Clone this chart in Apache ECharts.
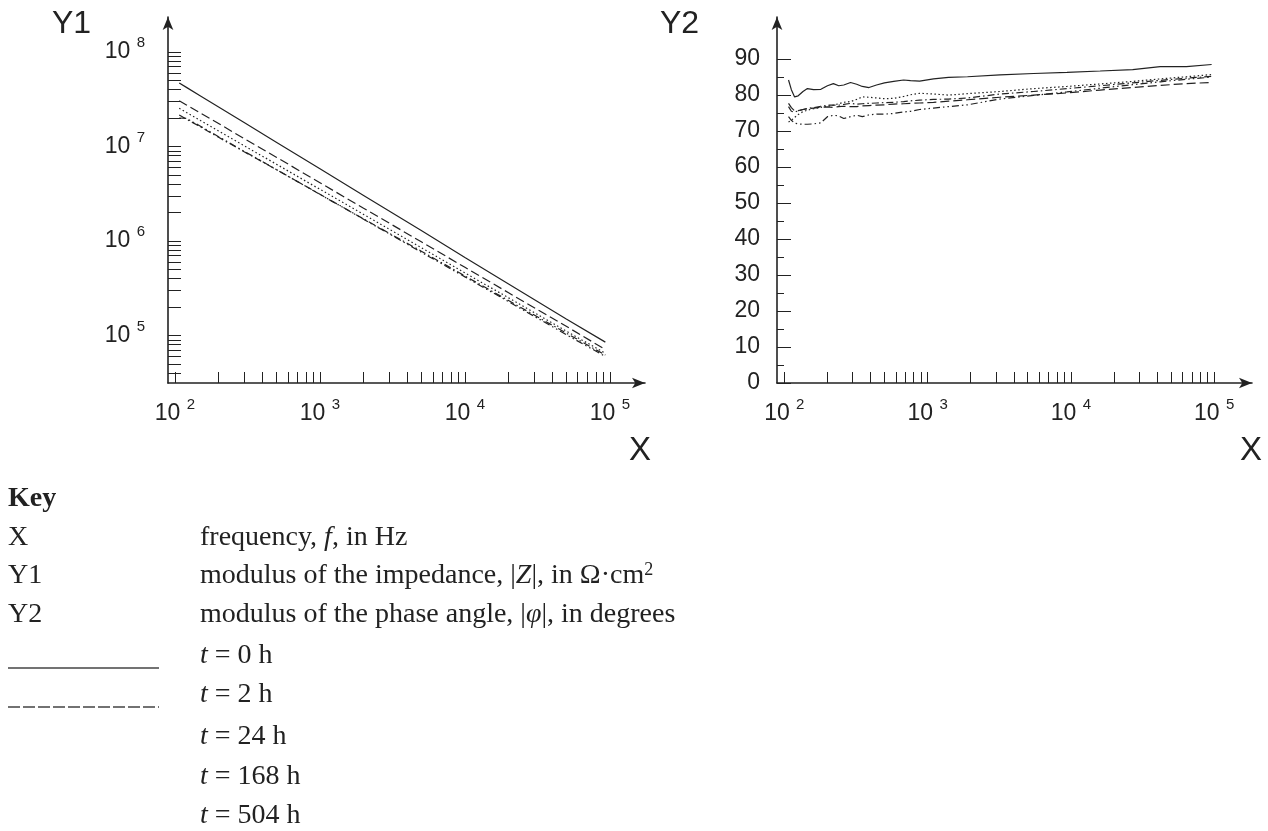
<!DOCTYPE html>
<html>
<head>
<meta charset="utf-8">
<script src="https://cdn.jsdelivr.net/npm/echarts@6/dist/echarts.min.js"></script>
<style>
  html, body { margin: 0; padding: 0; background: #fff; }
  #chart { width: 1268px; height: 831px; }
</style>
</head>
<body>
<div id="chart"></div>
<script>
// impedance modulus |Z| (Ohm cm2) vs frequency (Hz)
const freqZ = [107, 120, 150, 200, 300, 500, 1000, 2000, 5000, 10000, 20000, 50000, 93000];
const z0h   = [4.7e7, 4.22e7, 3.42e7, 2.61e7, 1.79e7, 1.11e7, 5.8e6, 3.03e6, 1.29e6, 6.7e5, 3.5e5, 1.49e5, 8.5e4];
const z2h   = [3.05e7, 2.75e7, 2.25e7, 1.75e7, 1.21e7, 7.7e6, 4.13e6, 2.22e6, 9.8e5, 5.26e5, 2.83e5, 1.25e5, 7.1e4];
const z24h  = [2.54e7, 2.29e7, 1.88e7, 1.46e7, 1.02e7, 6.5e6, 3.52e6, 1.91e6, 8.5e5, 4.6e5, 2.5e5, 1.11e5, 6.5e4];
const z168h = [2.15e7, 1.95e7, 1.61e7, 1.25e7, 8.8e6, 5.7e6, 3.12e6, 1.71e6, 7.8e5, 4.27e5, 2.34e5, 1.06e5, 6.2e4];
const z504h = [2.0e7, 1.98e7, 1.64e7, 1.27e7, 8.9e6, 5.7e6, 3.11e6, 1.70e6, 7.6e5, 4.17e5, 2.28e5, 1.02e5, 6.0e4];

// phase angle |phi| (degrees) vs frequency (Hz)
const freqP = [107, 112, 118, 125, 135, 145, 160, 180, 200, 220, 240, 260, 290, 320, 350, 390, 440, 500,
               580, 680, 760, 880, 1100, 1400, 1900, 3200, 5500, 9400, 16000, 27000, 42000, 64000, 96000];
const p0h   = [84.2, 81.5, 79.5, 79.8, 81.0, 81.8, 81.5, 81.6, 82.6, 83.2, 82.6, 82.8, 83.5, 83.0, 82.4, 82.1, 82.8, 83.4,
               83.8, 84.2, 84.0, 83.9, 84.5, 84.9, 85.1, 85.6, 86.0, 86.3, 86.7, 87.1, 87.9, 87.9, 88.5];
const p2h   = [77.7, 76.5, 75.6, 75.7, 76.0, 76.2, 76.4, 76.6, 76.7, 76.6, 76.8, 76.9, 76.8, 76.8, 77.0, 77.1, 77.2, 77.3,
               77.5, 77.6, 77.7, 77.8, 78.0, 78.3, 78.7, 79.4, 80.0, 80.6, 81.4, 82.1, 82.7, 83.2, 83.5];
const p24h  = [72.5, 73.0, 73.8, 74.6, 75.4, 75.8, 76.2, 76.6, 76.9, 77.2, 77.6, 78.0, 78.2, 78.8, 79.5, 79.4, 79.2, 79.0,
               79.1, 79.6, 80.1, 80.5, 80.3, 80.0, 80.4, 81.0, 81.8, 82.4, 83.1, 83.8, 84.5, 85.1, 85.7];
const p168h = [76.8, 75.5, 75.3, 75.6, 76.0, 76.3, 76.5, 76.9, 77.2, 77.2, 77.2, 77.4, 77.7, 77.5, 77.6, 77.7, 77.8, 77.9,
               78.0, 78.2, 78.4, 78.6, 78.8, 78.9, 79.2, 80.3, 81.0, 81.8, 82.6, 83.4, 84.1, 84.7, 85.2];
const p504h = [74.0, 73.0, 72.2, 72.0, 71.9, 71.9, 72.0, 72.3, 74.0, 74.4, 74.2, 73.5, 74.0, 74.4, 74.0, 74.5, 74.7, 74.7,
               74.9, 75.3, 75.5, 76.0, 76.4, 76.8, 77.3, 78.9, 79.9, 80.9, 81.9, 82.9, 83.7, 84.4, 85.0];

const seriesNames = ['t = 0 h', 't = 2 h', 't = 24 h', 't = 168 h', 't = 504 h'];
const zSeries = [z0h, z2h, z24h, z168h, z504h];
const pSeries = [p0h, p2h, p24h, p168h, p504h];

// ticks and labels
const freqTicks = [100, 200, 300, 400, 500, 600, 700, 800, 900,
                   1000, 2000, 3000, 4000, 5000, 6000, 7000, 8000, 9000,
                   10000, 20000, 30000, 40000, 50000, 60000, 70000, 80000, 90000, 100000];
const freqLabels = [100, 1000, 10000, 100000];
const zTicks = [4e4, 5e4, 6e4, 7e4, 8e4, 9e4,
                1e5, 2e5, 3e5, 4e5, 5e5, 6e5, 7e5, 8e5, 9e5,
                1e6, 2e6, 3e6, 4e6, 5e6, 6e6, 7e6, 8e6, 9e6,
                1e7, 2e7, 3e7, 4e7, 5e7, 6e7, 7e7, 8e7, 9e7, 1e8];
const zLabels = [1e5, 1e6, 1e7, 1e8];
const phaseMajor = [0, 10, 20, 30, 40, 50, 60, 70, 80, 90];
const phaseMinor = [5, 15, 25, 35, 45, 55, 65, 75, 85];

// key rows
const keyRows = [
  ['X', 'frequency, {i|f}, in Hz'],
  ['Y1', 'modulus of the impedance, |{i|Z}|, in Ω·cm{s|2}'],
  ['Y2', 'modulus of the phase angle, |{i|φ}|, in degrees']
];

const ink = '#222';
const sans = 'Liberation Sans';
const serif = 'Liberation Serif';
const dashes = ['solid', [9, 4], [1.5, 2.5], [7, 3, 1.5, 3], [7, 3, 1.5, 3, 1.5, 3]];
const lg = (v) => Math.log10(v);

const powRich = {
  b: { fontSize: 23, fontFamily: sans, color: ink },
  s: { fontSize: 15, fontFamily: sans, color: ink, padding: [0, 0, 18, 0] }
};
const powLabel = (v) => '{b|10} {s|' + Math.round(v) + '}';

const axisLine = {
  show: true,
  onZero: false,
  symbol: ['none', 'arrow'],
  symbolSize: [8, 13],
  lineStyle: { color: ink, width: 1.6 }
};

function freqAxis(gridIndex, min, max) {
  return {
    type: 'value', gridIndex, min, max, position: 'bottom',
    axisLine,
    axisTick: { show: true, inside: true, length: 11, customValues: freqTicks.map(lg),
                lineStyle: { color: ink, width: 1 } },
    axisLabel: { customValues: freqLabels.map(lg), formatter: powLabel, rich: powRich,
                 margin: 14, fontSize: 23, fontFamily: sans, color: ink },
    splitLine: { show: false }
  };
}

const chartDom = document.getElementById('chart');
const myChart = echarts.init(chartDom, null, { renderer: 'canvas' });

const series = [];
zSeries.forEach((vals, k) => {
  series.push({
    name: seriesNames[k], type: 'line', xAxisIndex: 0, yAxisIndex: 0,
    showSymbol: false, silent: true,
    lineStyle: { color: ink, width: 1.2, type: dashes[k] },
    data: freqZ.map((f, i) => [lg(f), lg(vals[i])])
  });
});
pSeries.forEach((vals, k) => {
  series.push({
    name: seriesNames[k], type: 'line', xAxisIndex: 1, yAxisIndex: 1,
    showSymbol: false, silent: true,
    lineStyle: { color: ink, width: 1.2, type: dashes[k] },
    data: freqP.map((f, i) => [lg(f), vals[i]])
  });
});

// text for titles and key
const graphics = [];
const txt = (text, x, y, size, opts) => Object.assign({
  type: 'text', silent: true,
  style: Object.assign({
    text, x, y, fontSize: size, fontFamily: sans, fill: ink,
    align: 'left', textAlign: 'left', verticalAlign: 'middle', textVerticalAlign: 'middle'
  }, opts || {})
});
graphics.push(txt('Y1', 52, 24, 32));
graphics.push(txt('Y2', 660, 24, 32));
graphics.push(txt('X', 640, 451, 33, { align: 'center', textAlign: 'center' }));
graphics.push(txt('X', 1251, 451, 33, { align: 'center', textAlign: 'center' }));

const keySize = 28;
const keyRich = {
  i: { fontSize: keySize, fontFamily: serif, fontStyle: 'italic', fill: ink, color: ink },
  s: { fontSize: 18, fontFamily: serif, fill: ink, color: ink, padding: [0, 0, 12, 0] }
};
const rowY = [538, 576, 615, 656, 695, 737, 777, 816];
graphics.push(txt('Key', 8, 499, keySize, { fontFamily: serif, fontWeight: 'bold' }));
keyRows.forEach((r, i) => {
  graphics.push(txt(r[0], 8, rowY[i], keySize, { fontFamily: serif }));
  graphics.push(txt(r[1], 200, rowY[i], keySize, { fontFamily: serif, rich: keyRich }));
});
seriesNames.forEach((name, i) => {
  graphics.push(txt('{i|t}' + name.slice(1), 200, rowY[3 + i], keySize, { fontFamily: serif, rich: keyRich }));
});
// line samples in the key (only the first two are drawn in the source)
graphics.push({ type: 'line', silent: true, shape: { x1: 8, y1: 668, x2: 159, y2: 668 },
                style: { stroke: '#444', lineWidth: 1.3 } });
graphics.push({ type: 'line', silent: true, shape: { x1: 8, y1: 707, x2: 159, y2: 707 },
                style: { stroke: '#444', lineWidth: 1.3, lineDash: [12, 3] } });

const option = {
  animation: false,
  backgroundColor: '#fff',
  grid: [
    { left: 168, top: 17, width: 477, height: 366 },
    { left: 777, top: 17, width: 475, height: 366 }
  ],
  xAxis: [
    freqAxis(0, 1.952, 5.242),
    freqAxis(1, 1.949, 5.264)
  ],
  yAxis: [
    {
      type: 'value', gridIndex: 0, min: 4.497, max: 8.37, position: 'left',
      axisLine,
      axisTick: { show: true, inside: true, length: 13, customValues: zTicks.map(lg),
                  lineStyle: { color: ink, width: 1 } },
      axisLabel: { customValues: zLabels.map(lg), formatter: powLabel, rich: powRich,
                   margin: 23, fontSize: 23, fontFamily: sans, color: ink },
      splitLine: { show: false }
    },
    {
      type: 'value', gridIndex: 1, min: 0, max: 101.7, position: 'left',
      axisLine,
      axisTick: { show: true, inside: true, length: 14, customValues: phaseMajor,
                  lineStyle: { color: ink, width: 1 } },
      axisLabel: { customValues: phaseMajor, margin: 17, fontSize: 23, fontFamily: sans, color: ink },
      splitLine: { show: false }
    },
    {
      // short ticks at the 5s
      type: 'value', gridIndex: 1, min: 0, max: 101.7, position: 'left', offset: 0,
      axisLine: { show: false },
      axisTick: { show: true, inside: true, length: 7, customValues: phaseMinor,
                  lineStyle: { color: ink, width: 1 } },
      axisLabel: { show: false },
      splitLine: { show: false }
    }
  ],
  series,
  graphic: { elements: graphics }
};

myChart.setOption(option);
</script>
</body>
</html>
